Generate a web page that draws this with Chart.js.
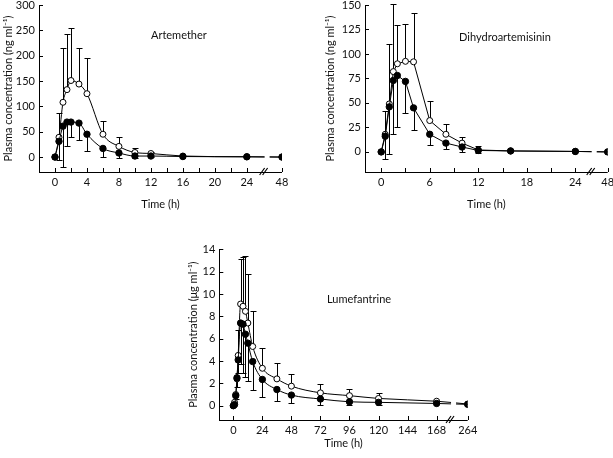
<!DOCTYPE html>
<html>
<head>
<meta charset="utf-8">
<script src="https://cdn.jsdelivr.net/npm/chart.js@4.4.1/dist/chart.umd.min.js"></script>
<style>
  body { margin: 0; background: #fff; }
  #wrap { position: relative; width: 613px; height: 458px; overflow: hidden; }
  canvas { position: absolute; }
</style>
</head>
<body>
<div id="wrap">
  <canvas id="amChart" width="300" height="215" style="left:0;top:0"></canvas>
  <canvas id="dhChart" width="303" height="215" style="left:310px;top:0"></canvas>
  <canvas id="lfChart" width="310" height="228" style="left:170px;top:230px"></canvas>
</div>
<script>
// Artemether (ng/ml) - open = first group, filled = second group
const amTimes    = [0, 0.5, 1, 1.5, 2, 3, 4, 6, 8, 10, 12, 16, 24, 48];
const amOpen     = [0, 39, 108, 133, 151, 144, 125, 45, 21, 9, 7, 2, 0.5, 0];
const amOpenSd   = [0, 48, 107, 109, 103, 71, 70, 27, 18, 8, 2, 0, 0, 0];
const amFilled   = [0, 31, 61, 69, 69, 67, 45, 17, 8, 2, 2, 1, 0.5, 0];
const amFilledSd = [0, 37, 80, 48, 30, 34, 33, 17, 10, 3, 2, 0, 0, 0];
const amXTicks   = [0, 4, 8, 12, 16, 20, 24, 48];
const amXMinor   = [2, 6, 10, 14, 18, 22];
const amYTicks   = [0, 50, 100, 150, 200, 250, 300];

// Dihydroartemisinin (ng/ml)
const dhTimes    = [0, 0.5, 1, 1.5, 2, 3, 4, 6, 8, 10, 12, 16, 24, 48];
const dhOpen     = [0, 18, 49, 82, 90, 92.5, 92, 32, 18, 9, 2, 1, 0.5, 0];
const dhOpenSd   = [0, 24, 61, 69, 40, 38, 50, 19.5, 11, 6, 4, 0, 0, 0];
const dhFilled   = [0, 16, 46, 73, 78, 72, 45, 18, 9, 5, 1.5, 1, 0.5, 0];
const dhFilledSd = [0, 23, 48, 55, 53, 32.5, 23, 11, 6, 5, 2.5, 0, 0, 0];
const dhXTicks   = [0, 6, 12, 18, 24, 48];
const dhXMinor   = [3, 9, 15, 21];
const dhYTicks   = [0, 25, 50, 75, 100, 125, 150];

// Lumefantrine (ug/ml)
const lfTimes    = [0, 1, 2, 3, 4, 6, 8, 10, 12, 16, 24, 36, 48, 72, 96, 120, 168, 264];
const lfOpen     = [0, 0.3, 1.0, 2.4, 4.5, 9.1, 8.9, 8.45, 7.4, 5.3, 3.35, 2.4, 1.75, 1.15, 0.9, 0.65, 0.4, 0.15];
const lfOpenSd   = [0, 0, 0, 0, 2.3, 4.0, 4.4, 4.95, 4.35, 3.2, 1.85, 1.4, 1.1, 0.8, 0.6, 0.48, 0, 0];
const lfFilled   = [0, 0.1, 0.9, 2.5, 4.1, 7.4, 7.3, 6.4, 5.6, 3.95, 2.35, 1.45, 0.95, 0.6, 0.35, 0.3, 0.2, 0.12];
const lfFilledSd = [0, 0, 0.3, 0.8, 1.2, 3.7, 4.4, 3.8, 3.4, 2.55, 1.55, 1.0, 0.7, 0.5, 0.3, 0.25, 0, 0];
const lfXTicks   = [0, 24, 48, 72, 96, 120, 144, 168, 264];
const lfXMinor   = [];
const lfYTicks   = [0, 2, 4, 6, 8, 10, 12, 14];

const FONT = { family: 'Lato, "Liberation Sans", sans-serif', size: 11 };

// error bars: open group up, filled group down
const errorBars = {
  id: 'errorBars',
  beforeDatasetsDraw(chart) {
    const ctx = chart.ctx, xs = chart.scales.x, ys = chart.scales.y;
    ctx.save();
    ctx.strokeStyle = '#000';
    ctx.lineWidth = 1;
    chart.data.datasets.forEach(ds => {
      ds.data.forEach((p, i) => {
        const e = ds.err[i];
        if (!e) return;
        const px = Math.round(xs.getPixelForValue(p.x)) + 0.5;
        const y0 = ys.getPixelForValue(p.y);
        const y1 = Math.round(ys.getPixelForValue(p.y + ds.errDir * e)) + 0.5;
        ctx.beginPath();
        ctx.moveTo(px, y0);
        ctx.lineTo(px, y1);
        ctx.moveTo(px - 3, y1);
        ctx.lineTo(px + 3, y1);
        ctx.stroke();
      });
    });
    ctx.restore();
  }
};

// inward ticks, axis break and panel name
const panelDeco = {
  id: 'panelDeco',
  afterDraw(chart, args, opts) {
    const ctx = chart.ctx, xs = chart.scales.x, ys = chart.scales.y;
    const a = chart.chartArea;
    ctx.save();
    ctx.strokeStyle = '#000';
    ctx.lineWidth = 1;
    ctx.beginPath();
    xs.ticks.forEach(t => {
      const px = Math.round(xs.getPixelForValue(t.value)) + 0.5;
      ctx.moveTo(px, a.bottom);
      ctx.lineTo(px, a.bottom - 4);
    });
    ys.ticks.forEach(t => {
      const py = Math.round(ys.getPixelForValue(t.value)) + 0.5;
      ctx.moveTo(a.left, py);
      ctx.lineTo(a.left + 4, py);
    });
    ctx.stroke();

    // gap in the curves and // on the axis
    const bx = xs.getPixelForValue(opts.breakAt);
    const y0 = ys.getPixelForValue(0);
    ctx.fillStyle = '#fff';
    ctx.fillRect(bx + 1, y0 - 6, 5, 10);
    ctx.lineWidth = 1.2;
    ctx.beginPath();
    [0, 3].forEach(k => {
      ctx.moveTo(bx - 4 + k, a.bottom + 3);
      ctx.lineTo(bx + 1 + k, a.bottom - 4);
    });
    ctx.stroke();
    ctx.lineWidth = 1;
    ctx.beginPath();
    ctx.moveTo(a.left, a.bottom + 0.5);
    ctx.lineTo(a.right, a.bottom + 0.5);
    ctx.stroke();

    ctx.fillStyle = '#111';
    ctx.font = FONT.size + 'px ' + FONT.family;
    ctx.textAlign = 'center';
    ctx.textBaseline = 'middle';
    ctx.fillText(opts.label, xs.getPixelForValue(opts.labelX), ys.getPixelForValue(opts.labelY));
    ctx.restore();
  }
};

function makePanel(id, p) {
  // compressed axis after the break
  const mapT = t => t <= p.breakFrom ? t : p.breakFrom + (t - p.breakFrom) * p.breakScale;
  const pts = arr => p.times.map((t, i) => ({ x: mapT(t), y: arr[i] }));
  const xTickList = p.xTicks.map(t => ({ value: mapT(t), lbl: String(t) }))
    .concat(p.xMinor.map(t => ({ value: t, lbl: '' })));
  const yTickList = p.yTicks.map(v => ({ value: v, lbl: String(v) }));
  const noGrid = { display: false, drawTicks: false, tickLength: 0 };

  return new Chart(document.getElementById(id), {
    type: 'line',
    data: {
      datasets: [{
        data: pts(p.filled), err: p.filledSd, errDir: -1, order: 0,
        borderColor: '#000', borderWidth: 1,
        pointRadius: 3.2, pointBackgroundColor: '#000', pointBorderColor: '#000', pointBorderWidth: 1,
        tension: p.smooth ? 0.3 : 0, cubicInterpolationMode: p.smooth ? 'monotone' : 'default'
      }, {
        data: pts(p.open), err: p.openSd, errDir: 1, order: 1,
        borderColor: '#000', borderWidth: 1,
        pointRadius: 3, pointBackgroundColor: '#fff', pointBorderColor: '#000', pointBorderWidth: 1,
        tension: p.smooth ? 0.3 : 0, cubicInterpolationMode: p.smooth ? 'monotone' : 'default'
      }]
    },
    options: {
      responsive: false,
      animation: false,
      devicePixelRatio: 1,
      layout: { padding: p.pad },
      plugins: {
        legend: { display: false },
        tooltip: { enabled: false },
        panelDeco: { breakAt: p.breakMark, label: p.label, labelX: p.labelX, labelY: p.labelY }
      },
      scales: {
        x: {
          type: 'linear', min: p.xMin, max: p.xMax,
          grid: noGrid,
          border: { display: false },
          afterBuildTicks: s => { s.ticks = xTickList.map(t => ({ ...t })); },
          afterFit: s => { s.height = p.xHeight; s.paddingLeft = 0; s.paddingRight = 0; },
          ticks: {
            autoSkip: false, maxRotation: 0, padding: p.xTickPad, color: '#111', font: FONT,
            callback: (v, i, ticks) => ticks[i].lbl
          },
          title: { display: true, text: 'Time (h)', color: '#111', font: FONT,
                   padding: { top: 0, bottom: p.xTitlePad } }
        },
        y: {
          min: p.yMin, max: p.yMax,
          grid: noGrid,
          border: { display: true, color: '#000', width: 1 },
          afterBuildTicks: s => { s.ticks = yTickList.map(t => ({ ...t })); },
          afterFit: s => { s.width = p.yWidth; s.paddingTop = 0; s.paddingBottom = 0; },
          ticks: { padding: 4, color: '#111', font: FONT, callback: (v, i, ticks) => ticks[i].lbl },
          title: { display: true, text: p.yTitle, color: '#111', font: FONT,
                   padding: { top: 1.4, bottom: 0 } }
        }
      }
    },
    plugins: [errorBars, panelDeco]
  });
}

makePanel('amChart', {
  times: amTimes, open: amOpen, openSd: amOpenSd, filled: amFilled, filledSd: amFilledSd,
  xTicks: amXTicks, xMinor: amXMinor, yTicks: amYTicks,
  xMin: -2, xMax: 28.4, yMin: -29.5, yMax: 300,
  breakFrom: 24, breakScale: 4.4 / 24, breakMark: 26.1,
  yTitle: 'Plasma concentration (ng ml\u207B\u00B9)',
  label: 'Artemether', labelX: 15.5, labelY: 239,
  pad: { left: 0, top: 4, right: 18, bottom: 0 },
  yWidth: 39, xHeight: 43, xTickPad: 4, xTitlePad: 4.4, smooth: true
});

makePanel('dhChart', {
  times: dhTimes, open: dhOpen, openSd: dhOpenSd, filled: dhFilled, filledSd: dhFilledSd,
  xTicks: dhXTicks, xMinor: dhXMinor, yTicks: dhYTicks,
  xMin: -2, xMax: 28, yMin: -20.5, yMax: 150,
  breakFrom: 24, breakScale: 4 / 24, breakMark: 25.9,
  yTitle: 'Plasma concentration (ng ml\u207B\u00B9)',
  label: 'Dihydroartemisinin', labelX: 15.3, labelY: 117,
  pad: { left: 12, top: 5, right: 5.3, bottom: 0 },
  yWidth: 43, xHeight: 43, xTickPad: 4, xTitlePad: 4.4, smooth: false
});

makePanel('lfChart', {
  times: lfTimes, open: lfOpen, openSd: lfOpenSd, filled: lfFilled, filledSd: lfFilledSd,
  xTicks: lfXTicks, xMinor: lfXMinor, yTicks: lfYTicks,
  xMin: -11.6, xMax: 193.7, yMin: -1.28, yMax: 14,
  breakFrom: 168, breakScale: 25.7 / 96, breakMark: 179.1,
  yTitle: 'Plasma concentration (\u03BCg ml\u207B\u00B9)',
  label: 'Lumefantrine', labelX: 103.9, labelY: 9.5,
  pad: { left: 15.3, top: 19.3, right: 12.3, bottom: 0 },
  yWidth: 34, xHeight: 38, xTickPad: 3.4, xTitlePad: 8.4, smooth: true
});
</script>
</body>
</html>
